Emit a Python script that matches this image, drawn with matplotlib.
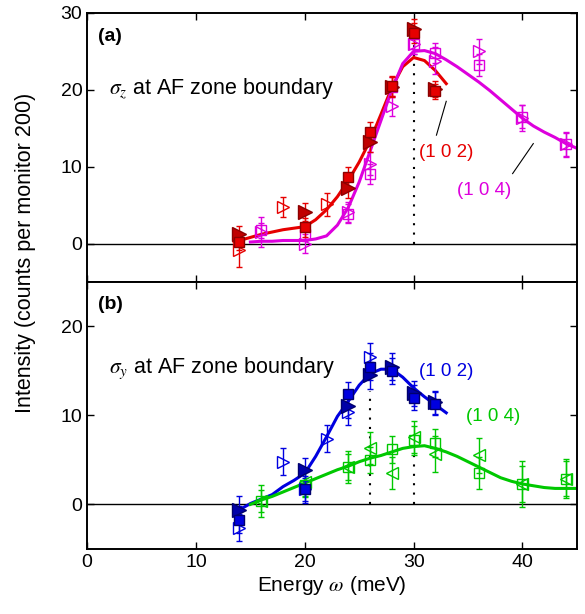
import numpy as np
import matplotlib
matplotlib.use("Agg")
import matplotlib.pyplot as plt

plt.rcParams['font.family'] = ['Liberation Sans', 'DejaVu Sans']
plt.rcParams['mathtext.fontset'] = 'stix'
plt.rcParams['font.size'] = 14

# ---- panel (a): sigma_z ----
e_a = [14, 20, 24, 26, 28, 30, 32]
red_sq = [0.2, 2.1, 8.7, 14.5, 20.5, 27.4, 19.8]
red_sq_err = [1.0, 1.2, 1.3, 1.3, 1.3, 1.3, 1.0]
red_tri = [1.3, 4.1, 7.2, 13.2, 20.3, 27.9, 20.1]
red_tri_err = [1.0, 1.2, 1.3, 1.3, 1.3, 1.3, 1.0]

e_red_open = [14, 18, 22]
red_open = [-0.8, 4.7, 5.1]
red_open_err = [2.3, 1.3, 1.5]

e_mag = [16, 20, 24, 26, 28, 30, 32, 36, 40, 44]
mag_sq = [1.7, 1.3, 3.9, 9.1, 20.4, 25.9, 24.8, 23.2, 16.5, 12.9]
mag_sq_err = [1.0, 1.0, 1.2, 1.3, 1.3, 1.3, 1.3, 1.4, 1.5, 1.5]
mag_tri = [1.5, 0.0, 4.1, 10.4, 17.9, 25.9, 23.8, 25.0, 16.3, 12.9]
mag_tri_err = [2.0, 1.2, 1.3, 1.5, 1.3, 1.3, 1.8, 1.6, 1.7, 1.6]

fit_red_x = [13.5, 14, 15, 16, 17, 18, 19, 20, 21, 22, 23, 24, 25, 26, 27, 28, 29, 30, 31, 32, 33]
fit_red_y = [0.2, 0.4, 0.8, 1.2, 1.5, 1.8, 2.0, 2.2, 3.1, 4.4, 6.1, 8.2, 10.6, 13.4, 16.8, 20.3, 23.0, 24.2, 23.8, 22.5, 20.8]
fit_mag_x = [15, 16, 17, 18, 19, 20, 21, 22, 23, 24, 25, 26, 27, 28, 29, 30, 31, 32, 33, 34,
             35, 36, 37, 38, 39, 40, 41, 42, 43, 44, 45]
fit_mag_y = [0.2, 0.3, 0.3, 0.4, 0.4, 0.4, 0.6, 1.0, 2.4, 4.7, 8.0, 12.0, 16.0, 20.0, 23.4, 25.0, 25.1, 24.7,
             23.9, 23.0, 22.0, 21.0, 19.9, 18.7, 17.5, 16.3, 15.3, 14.5, 13.8, 13.0, 12.4]

# ---- panel (b): sigma_y ----
e_b = [14, 20, 24, 26, 28, 30, 32]
blue_sq = [-1.7, 1.7, 12.4, 15.5, 15.0, 12.0, 11.3]
blue_sq_err = [1.5, 1.3, 1.4, 1.5, 1.5, 1.4, 1.3]
blue_tri = [-0.6, 3.9, 11.1, 14.5, 15.5, 12.5, 11.5]
blue_tri_err = [1.5, 1.3, 1.4, 1.5, 1.5, 1.4, 1.3]

e_blue_open = [14, 18, 20, 22, 24, 26]
blue_open = [-2.6, 4.8, 1.7, 7.4, 10.4, 16.6]
blue_open_err = [1.5, 1.5, 1.5, 1.5, 1.5, 1.5]

e_grn = [16, 20, 24, 26, 28, 30, 32, 36, 40, 44]
grn_sq = [0.4, 2.2, 4.2, 5.0, 6.2, 7.2, 6.9, 3.5, 2.3, 2.9]
grn_sq_err = [1.2, 1.4, 1.5, 1.5, 1.5, 1.6, 1.6, 1.8, 2.0, 2.0]
grn_tri = [0.4, 2.5, 4.2, 6.3, 3.5, 7.6, 5.7, 5.5, 2.3, 2.9]
grn_tri_err = [1.8, 1.6, 1.8, 1.8, 1.8, 1.8, 2.0, 2.0, 2.6, 2.2]

fit_blue_x = [13.5, 14, 15, 16, 17, 18, 19, 20, 21, 22, 23, 24, 25, 26, 27, 28, 29, 30, 31, 32, 33]
fit_blue_y = [-0.9, -0.6, 0.1, 0.6, 1.1, 2.0, 2.7, 3.5, 5.4, 7.6, 9.9, 11.6, 13.4, 14.7, 15.2, 15.2,
              14.3, 13.1, 12.1, 11.2, 10.3]
fit_grn_x = [15, 16, 17, 18, 19, 20, 21, 22, 23, 24, 25, 26, 27, 28, 29, 30, 31, 32, 33, 34,
             35, 36, 37, 38, 39, 40, 41, 42, 43, 44, 45]
fit_grn_y = [0.0, 0.5, 0.9, 1.4, 1.9, 2.4, 2.9, 3.4, 3.9, 4.3, 4.8, 5.2, 5.5, 5.9, 6.3, 6.5, 6.6, 6.3,
             5.9, 5.4, 4.8, 4.2, 3.6, 3.0, 2.6, 2.3, 2.1, 1.9, 1.8, 1.8, 1.8]

RED, DRED = '#e60000', '#8c0000'
MAG = '#dd00dd'
BLUE, DBLUE = '#0000e0', '#00006e'
GRN = '#00c800'

fig = plt.figure(figsize=(5.85, 6.14), dpi=100)
ax1 = fig.add_axes([0.149, 0.5407, 0.837, 0.4383])
ax2 = fig.add_axes([0.149, 0.106, 0.837, 0.4347])

eb = dict(linestyle='none', elinewidth=1.0, capsize=2.5, capthick=1.0)


def style(ax):
    ax.set_xlim(0, 45)
    ax.set_xticks([0, 10, 20, 30, 40])
    ax.tick_params(direction='in', top=True, right=True, length=5, width=1, labelsize=14)
    for s in ax.spines.values():
        s.set_linewidth(1.4)
    ax.axhline(0, color='black', lw=1.0, zorder=1)


# panel (a)
ax1.plot([30, 30], [0, 29], color='black', ls=(0, (1, 3.5)), lw=1.5, zorder=1)
ax1.plot(fit_red_x, fit_red_y, color=RED, lw=2.2, zorder=2)
ax1.plot(fit_mag_x, fit_mag_y, color=MAG, lw=2.2, zorder=2)
ax1.errorbar(e_mag, mag_sq, yerr=mag_sq_err, marker='s', ms=7.5, mfc='none', mec=MAG, color=MAG, **eb)
ax1.errorbar(e_mag, mag_tri, yerr=mag_tri_err, marker='>', ms=8.5, mfc='none', mec=MAG, color=MAG, **eb)
ax1.errorbar(e_red_open, red_open, yerr=red_open_err, marker='>', ms=8.5, mfc='none', mec=RED, color=RED, **eb)
ax1.errorbar(e_a, red_tri, yerr=red_tri_err, marker='>', ms=9.5, mfc='#c00000', mec=DRED, color=RED, **eb)
ax1.errorbar(e_a, red_sq, yerr=red_sq_err, marker='s', ms=7.5, mfc=RED, mec=DRED, color=RED, **eb)
style(ax1)
ax1.set_ylim(-5, 30)
ax1.set_yticks([0, 10, 20, 30])
ax1.tick_params(labelbottom=False)
ax1.text(1.0, 26.9, '(a)', fontsize=14, fontweight='bold', va='center')
ax1.text(2.0, 20.2, r'$\sigma_z$ at AF zone boundary', fontsize=15.5, va='center')
ax1.plot([33.0, 32.1], [18.5, 14.1], color='black', lw=0.8)
ax1.plot([41.0, 39.1], [13.0, 9.1], color='black', lw=0.8)
ax1.text(33.0, 11.8, '(1 0 2)', color=RED, ha='center', va='center', fontsize=13.5)
ax1.text(36.5, 6.9, '(1 0 4)', color=MAG, ha='center', va='center', fontsize=13.5)

# panel (b)
ax2.plot([26, 26], [0, 12.8], color='black', ls=(0, (1, 3.5)), lw=1.5, zorder=1)
ax2.plot([30, 30], [0, 6.8], color='black', ls=(0, (1, 3.5)), lw=1.5, zorder=1)
ax2.plot(fit_blue_x, fit_blue_y, color=BLUE, lw=2.2, zorder=2)
ax2.plot(fit_grn_x, fit_grn_y, color=GRN, lw=2.2, zorder=2)
ax2.errorbar(e_grn, grn_sq, yerr=grn_sq_err, marker='s', ms=7.5, mfc='none', mec=GRN, color=GRN, **eb)
ax2.errorbar(e_grn, grn_tri, yerr=grn_tri_err, marker='<', ms=8.5, mfc='none', mec=GRN, color=GRN, **eb)
ax2.errorbar(e_blue_open, blue_open, yerr=blue_open_err, marker='>', ms=8.5, mfc='none', mec=BLUE, color=BLUE, **eb)
ax2.errorbar(e_b, blue_tri, yerr=blue_tri_err, marker='>', ms=9.5, mfc='#0000a8', mec=DBLUE, color=BLUE, **eb)
ax2.errorbar(e_b, blue_sq, yerr=blue_sq_err, marker='s', ms=7.5, mfc=BLUE, mec=DBLUE, color=BLUE, **eb)
style(ax2)
ax2.set_ylim(-5, 25)
ax2.set_yticks([0, 10, 20])
ax2.text(1.0, 22.5, '(b)', fontsize=14, fontweight='bold', va='center')
ax2.text(2.0, 15.3, r'$\sigma_y$ at AF zone boundary', fontsize=15.5, va='center')
ax2.text(33.0, 14.9, '(1 0 2)', color=BLUE, ha='center', va='center', fontsize=13.5)
ax2.text(37.3, 9.9, '(1 0 4)', color=GRN, ha='center', va='center', fontsize=13.5)
ax2.set_xlabel(r'Energy $\omega$ (meV)', fontsize=15, labelpad=2)

fig.text(0.043, 0.588, 'Intensity (counts per monitor 200)', rotation=90,
         ha='center', va='center', fontsize=15.5)

fig.savefig('out.png', dpi=100)
